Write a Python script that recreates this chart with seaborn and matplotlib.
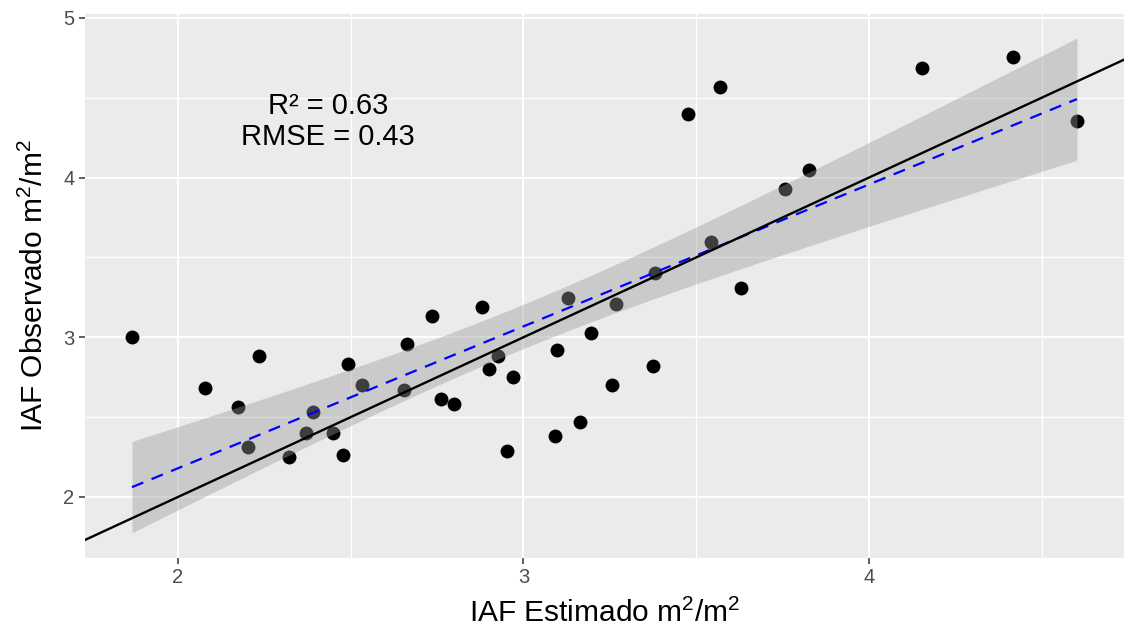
import numpy as np
import pandas as pd
import matplotlib
matplotlib.use("Agg")
import matplotlib.pyplot as plt
import seaborn as sns
from matplotlib.ticker import MultipleLocator

# ---- data ----
iaf_estimado = [1.867, 2.078, 2.174, 2.203, 2.234, 2.321, 2.370, 2.391, 2.449, 2.478,
                2.492, 2.533, 2.654, 2.663, 2.735, 2.761, 2.799, 2.880, 2.900, 2.926,
                2.952, 2.970, 3.091, 3.097, 3.129, 3.164, 3.195, 3.256, 3.268, 3.375,
                3.381, 3.476, 3.543, 3.569, 3.630, 3.757, 3.826, 4.153, 4.417, 4.602]
iaf_observado = [3.002, 2.683, 2.564, 2.313, 2.883, 2.250, 2.401, 2.532, 2.401, 2.263,
                 2.833, 2.701, 2.670, 2.958, 3.133, 2.614, 2.582, 3.190, 2.801, 2.883,
                 2.288, 2.751, 2.382, 2.920, 3.246, 2.470, 3.027, 2.701, 3.208, 2.820,
                 3.403, 4.398, 3.597, 4.567, 3.309, 3.929, 4.048, 4.686, 4.755, 4.354]
annot_text = "R\u00b2 = 0.63\nRMSE = 0.43"
x_ticks = [2, 3, 4]
y_ticks = [2, 3, 4, 5]

df = pd.DataFrame({"est": iaf_estimado, "obs": iaf_observado})

sns.set_theme(style="darkgrid", rc={
    "axes.facecolor": "#EBEBEB",
    "grid.color": "white",
    "axes.edgecolor": "#EBEBEB",
})
plt.rcParams["font.family"] = ["Liberation Sans", "DejaVu Sans"]
plt.rcParams["mathtext.fontset"] = "custom"
plt.rcParams["mathtext.rm"] = "Liberation Sans"
plt.rcParams["mathtext.it"] = "Liberation Sans"

fig, ax = plt.subplots(figsize=(11.25, 6.35), dpi=100)
fig.subplots_adjust(left=85/1125, right=1124/1125, top=1-14/635, bottom=1-558/635)

# points
sns.scatterplot(data=df, x="est", y="obs", ax=ax, color="black", s=100,
                linewidth=0, zorder=2)

# linear regression with 95% CI
x = df["est"].to_numpy()
y = df["obs"].to_numpy()
n = len(x)
b1, b0 = np.polyfit(x, y, 1)
xs = np.linspace(x.min(), x.max(), 200)
ys = b0 + b1 * xs
resid = y - (b0 + b1 * x)
s = np.sqrt(np.sum(resid**2) / (n - 2))
sxx = np.sum((x - x.mean())**2)
tq = 2.0244  # t(0.975, df=38)
se = s * np.sqrt(1/n + (xs - x.mean())**2 / sxx)
ax.fill_between(xs, ys - tq*se, ys + tq*se, color="#999999", alpha=0.4,
                linewidth=0, zorder=3)
ax.plot(xs, ys, color="blue", lw=1.6, ls=(0, (5.5, 4)), zorder=4)

# 1:1 line
ax.axline((2, 2), slope=1, color="black", lw=1.7, zorder=5)

ax.text(2.434, 4.351, annot_text, ha="center", va="center", fontsize=21,
        color="black", linespacing=1.14, zorder=6)

ax.set_xlim(1.731, 4.738)
ax.set_ylim(1.618, 5.024)
ax.set_xticks(x_ticks)
ax.set_yticks(y_ticks)
ax.xaxis.set_minor_locator(MultipleLocator(0.5))
ax.yaxis.set_minor_locator(MultipleLocator(0.5))
ax.grid(which="major", color="white", lw=1.4)
ax.grid(which="minor", color="white", lw=1.0)
ax.set_axisbelow(True)
ax.tick_params(axis="both", which="major", length=4.5, width=1.1, color="#333333",
               labelsize=14.5, labelcolor="#4D4D4D", pad=3, bottom=True, left=True)
ax.tick_params(axis="both", which="minor", length=0)
for sp in ax.spines.values():
    sp.set_visible(False)

ax.set_xlabel("IAF Estimado m$^2$/m$^2$", fontsize=21.5, color="black", labelpad=8)
ax.set_ylabel("IAF Observado m$^2$/m$^2$", fontsize=21.5, color="black", labelpad=10)

fig.savefig("out.png", dpi=100, facecolor="white")
